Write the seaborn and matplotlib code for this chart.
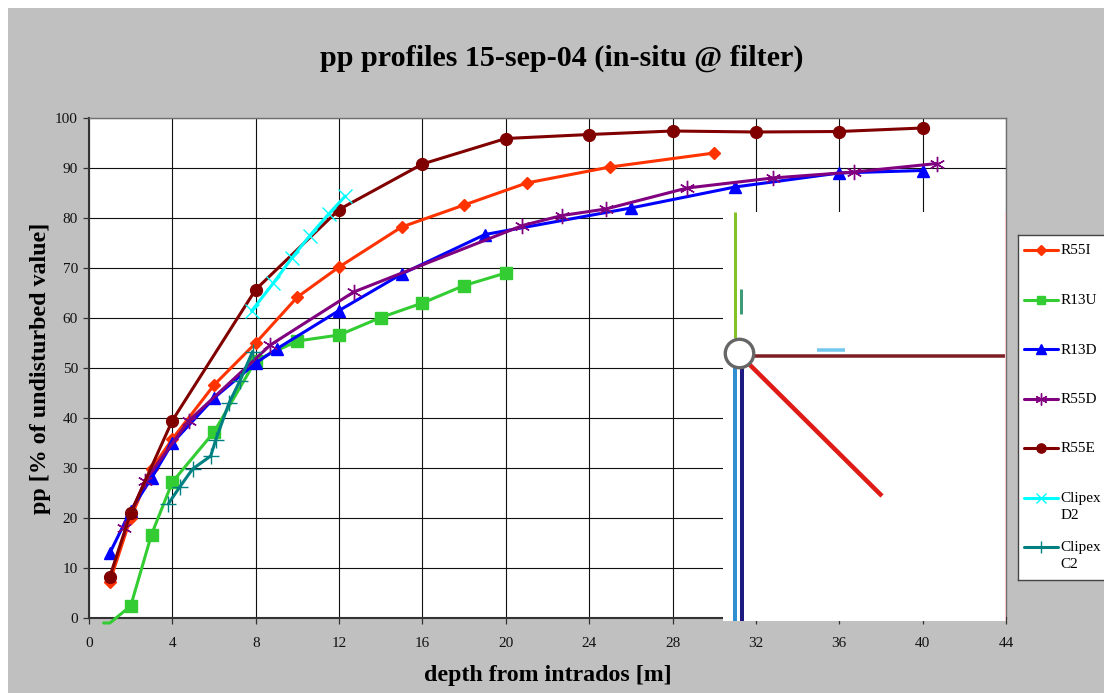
import matplotlib
matplotlib.use('Agg')
import matplotlib.pyplot as plt
from matplotlib.patches import Rectangle
import seaborn as sns

# measured profiles, depth [m] and pp [%]
r55i_x = [1, 2, 3, 4, 6, 8, 10, 12, 15, 18, 21, 25, 30]
r55i_y = [7.3, 20, 29.8, 35.8, 46.6, 55, 64.2, 70.2, 78.2, 82.6, 87, 90.2, 93]
r13u_x = [0.7, 1, 2, 3, 4, 6, 8, 10, 12, 14, 16, 18, 20]
r13u_y = [-1, -1, 2.4, 16.7, 27.2, 37.2, 51.5, 55.4, 56.6, 60.1, 63, 66.5, 69]
r13d_x = [1, 2, 3, 4, 6, 8, 9, 12, 15, 19, 26, 31, 36, 40]
r13d_y = [13, 21.5, 28, 35, 44, 51, 53.8, 61.5, 68.8, 76.7, 82, 86.2, 89, 89.5]
r55d_x = [1.7, 2.7, 4.8, 8.7, 12.7, 20.8, 22.7, 24.8, 28.7, 32.8, 36.7, 40.7]
r55d_y = [18, 27.5, 39.5, 54.6, 65.2, 78.5, 80.5, 81.8, 86, 88, 89.2, 90.9]
r55e_x = [1, 2, 4, 8, 12, 16, 20, 24, 28, 32, 36, 40]
r55e_y = [8.3, 21, 39.5, 65.7, 81.7, 90.8, 95.9, 96.7, 97.4, 97.2, 97.3, 98]
d2_x = [7.8, 8.85, 9.75, 10.6, 11.5, 12.3]
d2_y = [61.4, 67, 72.1, 76.5, 80.8, 84.4]
c2_x = [3.8, 4.37, 4.97, 5.84, 6.08, 6.72, 7.25, 7.85]
c2_y = [22.8, 26.3, 29.8, 32.4, 35.6, 43, 47.5, 53.3]

x_ticks = list(range(0, 45, 4))
y_ticks = list(range(0, 101, 10))

# schematic over the lower right corner, in pixels of the inset box
sketch_lines = [
    ([12.3, 12.3], [0, 126], '#84c225', 3),
    ([18, 18], [77, 102], '#3f9a78', 3),
    ([94, 122], [138, 138], '#72c8ee', 3.5),
    ([29, 283], [144, 144], '#7d1f24', 3.5),
    ([12.3, 12.3], [156, 409], '#2f8fd0', 4),
    ([18.7, 18.7], [156, 409], '#1f1a80', 4),
    ([26, 159], [152, 284], '#e01b16', 4.5),
]

sns.set_theme(style='white')
plt.rcParams['font.family'] = ['Liberation Serif', 'DejaVu Serif']

fig = plt.figure(figsize=(11.04, 6.93), dpi=100, facecolor='white')
fig.add_artist(Rectangle((8 / 1104, 0), 1096 / 1104, 685 / 693, transform=fig.transFigure,
                         facecolor='#c0c0c0', edgecolor='none', zorder=-5))

ax = fig.add_axes([89 / 1104, 75 / 693, 917 / 1104, 500 / 693])
ax.set_facecolor('white')

series = [
    (r55i_x, r55i_y, 'R55I', '#ff3300', 'D', 6.5, None),
    (r13u_x, r13u_y, 'R13U', '#33cc33', 's', 8, list(range(2, len(r13u_x)))),
    (r13d_x, r13d_y, 'R13D', '#0000ff', '^', 8.5, None),
    (r55d_x, r55d_y, 'R55D', '#800080', (6, 2, 0), 11, None),
    (r55e_x, r55e_y, 'R55E', '#800000', 'o', 8.5, None),
    (d2_x, d2_y, 'Clipex\nD2', '#00ffff', 'x', 9.5, None),
    (c2_x, c2_y, 'Clipex\nC2', '#008080', '+', 11, None),
]
for i, (xs, ys, name, col, mk, ms, every) in enumerate(series):
    sns.lineplot(x=xs, y=ys, ax=ax, color=col, marker=mk, markersize=ms, linewidth=2.2,
                 markeredgecolor=col, markeredgewidth=1, markevery=every, legend=False,
                 errorbar=None, sort=False, clip_on=False, zorder=3 + i)

ax.set_xlim(0, 44)
ax.set_ylim(0, 100)
ax.set_xticks(x_ticks)
ax.set_yticks(y_ticks)
ax.grid(True, color='#111111', linewidth=0.8)
ax.set_axisbelow(True)
ax.tick_params(axis='both', length=4, width=0.9, color='#333333', labelsize=11,
               labelcolor='#111111', left=True, bottom=True)
ax.tick_params(axis='x', pad=9.5)
ax.tick_params(axis='y', pad=4)
for side in ax.spines:
    ax.spines[side].set_visible(True)
    ax.spines[side].set_color('#707070')
    ax.spines[side].set_linewidth(1)
ax.spines['left'].set_color('#333333')
ax.spines['left'].set_linewidth(1.5)
ax.spines['bottom'].set_color('#333333')
ax.spines['bottom'].set_linewidth(1.5)

ax.set_xlabel('depth from intrados [m]', fontsize=17.2, fontweight='bold', color='black', labelpad=11)
ax.set_ylabel('pp [% of undisturbed value]', fontsize=17.3, fontweight='bold', color='black', labelpad=3)
fig.text(562 / 1104, 1 - 58 / 693, 'pp profiles 15-sep-04 (in-situ @ filter)', ha='center', va='center',
         fontsize=21.7, fontweight='bold', color='black')

# legend box, entries sit on an even 49.5 px step as in the original
key = fig.add_axes([1018 / 1104, (693 - 580) / 693, 95 / 1104, 345 / 693], zorder=6)
key.set_xlim(1018, 1113)
key.set_ylim(580, 235)
key.set_xticks([])
key.set_yticks([])
key.set_facecolor('white')
for side in key.spines:
    key.spines[side].set_color('#444444')
    key.spines[side].set_visible(True)
    key.spines[side].set_linewidth(1)
for i, (xs, ys, name, col, mk, ms, every) in enumerate(series):
    row = 250 + 49.5 * i
    key.plot([1024, 1041, 1058], [row, row, row], color=col, linewidth=2.2, marker=mk,
             markersize=ms * 0.78, markevery=[1], markeredgecolor=col, markeredgewidth=1)
    key.text(1060.5, row - 5.5, name, fontsize=11, color='black', ha='left', va='top', linespacing=1.4)

# white box with the borehole sketch
sketch = fig.add_axes([723 / 1104, 72 / 693, 283 / 1104, 409 / 693], zorder=5)
sketch.set_xlim(0, 283)
sketch.set_ylim(409, 0)
sketch.set_xticks([])
sketch.set_yticks([])
sketch.set_facecolor('white')
for side in sketch.spines:
    sketch.spines[side].set_visible(False)
for xs, ys, col, lw in sketch_lines:
    sketch.plot(xs, ys, color=col, linewidth=lw * 0.72, solid_capstyle='butt')
sketch.plot([283, 283], [0, 409], color='#f8c8c8', linewidth=1.5)
sketch.plot([15.5], [141], marker='o', markersize=20.5, markerfacecolor='white',
            markeredgecolor='#666666', markeredgewidth=2.4)

fig.savefig('out.png', dpi=100, facecolor=fig.get_facecolor())
